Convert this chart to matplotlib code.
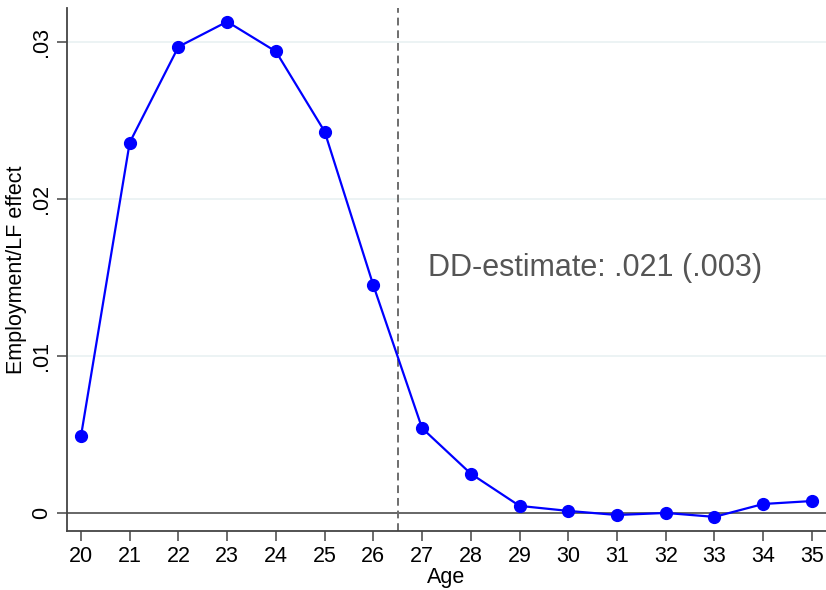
import matplotlib.pyplot as plt

plt.rcParams['font.family'] = ['Liberation Sans', 'DejaVu Sans']

ages = [20, 21, 22, 23, 24, 25, 26, 27, 28, 29, 30, 31, 32, 33, 34, 35]
effect = [0.0049, 0.0236, 0.0297, 0.0313, 0.0294, 0.0243, 0.0145, 0.0054,
          0.0025, 0.00045, 0.00013, -0.00013, 0.0, -0.00025, 0.00057, 0.00076]
yticks = [0, 0.01, 0.02, 0.03]
ylabels = ['0', '.01', '.02', '.03']
cutoff = 26.5
note = 'DD-estimate: .021 (.003)'

fig = plt.figure(figsize=(8.26, 5.90), dpi=100)
ax = fig.add_axes([67 / 826, 1 - 531 / 590, (826 - 67) / 826, (531 - 8) / 590])

ax.set_xlim(19.713, 35.289)
ax.set_ylim(-0.00115, 0.03217)

for y in yticks[1:]:
    ax.axhline(y, color='#eaf2f3', lw=1.3, zorder=0)
ax.axhline(0, color='#5a5a5a', lw=1.3, zorder=1)
ax.axvline(cutoff, color='#6e6e6e', lw=1.4, ls=(0, (4, 2.5)), zorder=1)

ax.plot(ages, effect, color='#0000ff', lw=1.6, marker='o', ms=8.5, zorder=3)

ax.text(27.12, 0.0156, note, fontsize=22, color='#555555', va='center')

ax.set_xticks(ages)
ax.set_yticks(yticks)
ax.set_yticklabels(ylabels, rotation=90, va='center')
ax.tick_params(axis='both', labelsize=15.5, length=7, width=1.1, color='#444444', pad=4)

for s in ['top', 'right']:
    ax.spines[s].set_visible(False)
for s in ['left', 'bottom']:
    ax.spines[s].set_color('#444444')
    ax.spines[s].set_linewidth(1.3)

ax.set_xlabel('Age', fontsize=15.5, labelpad=0)
ax.set_ylabel('Employment/LF effect', fontsize=15.5, labelpad=3)

fig.savefig('out.png', dpi=100)
